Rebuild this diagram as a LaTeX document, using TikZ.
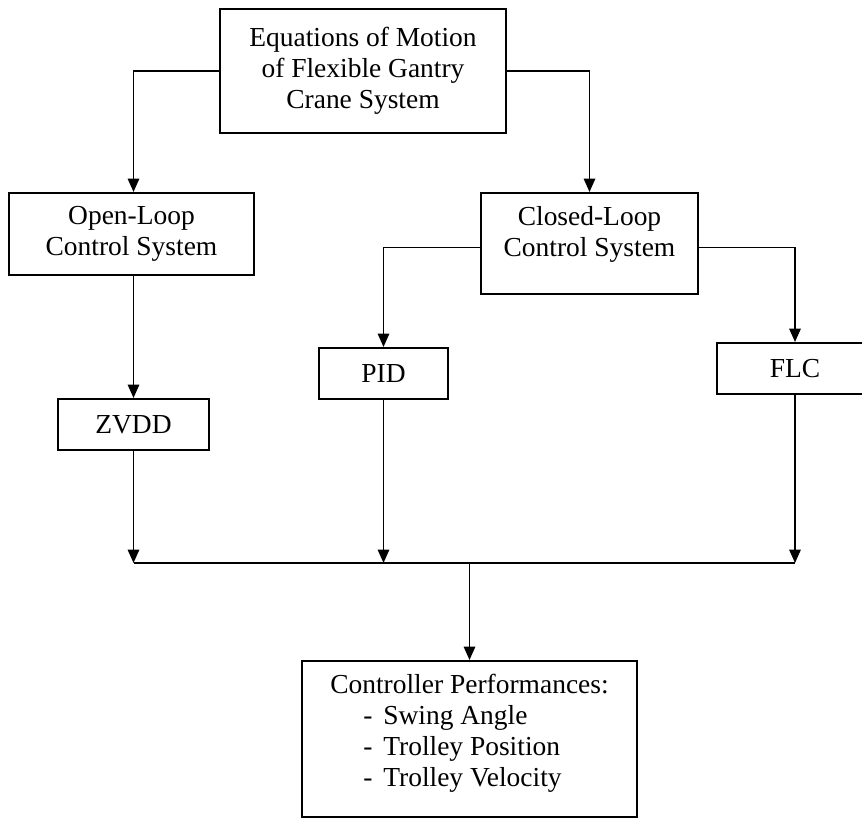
\documentclass[tikz,border=0pt]{standalone}
\usepackage{fontspec}
\setmainfont{Liberation Serif}
\usetikzlibrary{arrows.meta,calc}
\begin{document}
\begin{tikzpicture}[x=0.75pt,y=-0.75pt,
  boxfont/.style={font=\fontsize{20.6}{23.3}\selectfont},
  box/.style={boxfont, draw, line width=1.5pt, rectangle, inner sep=0pt, align=center},
  boxtext/.style={boxfont, inner sep=0pt},
  link/.style={line width=1.4pt, -{Triangle[length=10pt,width=8.5pt]}},
  plain/.style={line width=1.4pt}
]
\path[use as bounding box] (0,0) rectangle (862,818);
\clip (0,0) rectangle (862,818);

% model block
\node[box, minimum width=214.5pt, minimum height=93pt] (eom) at (363,71)
  {Equations of Motion\\of Flexible Gantry\\Crane System};

% the two control families
\node[box, minimum width=183.75pt, minimum height=61.5pt] (ol) at (131.5,234)
  {Open-Loop\\Control System};
\node[box, minimum width=162.75pt, minimum height=75.75pt] (cl) at (589.5,243.5) {};
\node[boxtext, align=center] (cltext) at (589.5,234) {Closed-Loop\\Control System};

% controllers
\node[box, minimum width=113.25pt, minimum height=38.25pt] (zvdd) at (133.5,424.5) {ZVDD};
\node[box, minimum width=96.75pt, minimum height=38.25pt] (pid) at (383.5,373.5) {PID};
\node[box, minimum width=117pt, minimum height=38.25pt] (flc) at (795,368.5) {FLC};

% performance block
\node[box, minimum width=251.25pt, minimum height=117pt] (perf) at (469.5,739) {};
\node[boxtext, align=left] (perftext) at (469.5,733)
  {Controller Performances:\\
   \hspace*{24.75pt}\makebox[15pt][l]{-}Swing Angle\\
   \hspace*{24.75pt}\makebox[15pt][l]{-}Trolley Position\\
   \hspace*{24.75pt}\makebox[15pt][l]{-}Trolley Velocity};

% connectors
\coordinate (bus) at (469.5,563);
\draw[link] (eom.west) -| (zvdd.north |- ol.north);
\draw[link] (eom.east) -| (cl.north);
\draw[link] (zvdd.north |- ol.south) -- (zvdd.north);
\draw[link] ($(cl.west)+(0,4)$) -| (pid.north);
\draw[link] ($(cl.east)+(0,4)$) -| (flc.north);
\draw[link] (zvdd.south) -- (zvdd.south |- bus);
\draw[link] (pid.south) -- (pid.south |- bus);
\draw[link] (flc.south) -- (flc.south |- bus);
\draw[plain] (zvdd.south |- bus) -- (flc.south |- bus);
\draw[link] (bus) -- (perf.north);
\end{tikzpicture}
\end{document}
